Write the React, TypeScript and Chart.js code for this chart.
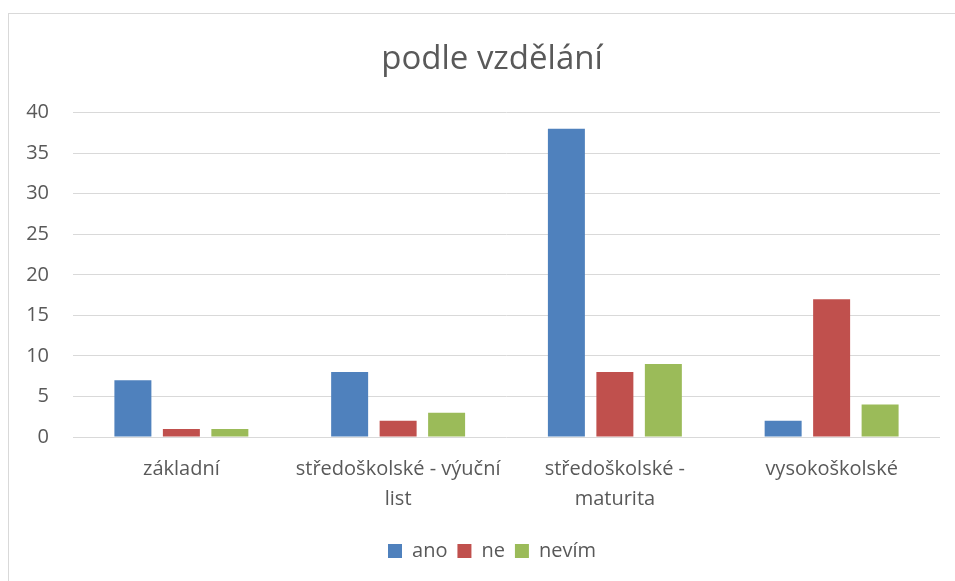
import React, { useEffect, useRef } from "react";
import { Chart, registerables } from "chart.js";

Chart.register(...registerables);

const categories: (string | string[])[] = [
  "základní",
  ["středoškolské - výuční", "list"],
  ["středoškolské -", "maturita"],
  "vysokoškolské",
];
const ano = [7, 8, 38, 2];
const ne = [1, 2, 8, 17];
const nevim = [1, 3, 9, 4];
const yTicks = [0, 5, 10, 15, 20, 25, 30, 35, 40];

const FONT = "'Open Sans', sans-serif";
const TEXT = "#595959";

const centerShift = {
  id: "centerShift",
  afterLayout(chart: any) {
    if (chart.titleBlock) chart.titleBlock.left += 44;
    if (chart.legend) chart.legend.left += 44;
  },
};

export default function App() {
  const ref = useRef<HTMLCanvasElement | null>(null);
  useEffect(() => {
    document.body.style.margin = "0";
    const ctx = ref.current!;
    const chart = new Chart(ctx, {
      type: "bar",
      data: {
        labels: categories as any,
        datasets: [
          { label: "ano", data: ano, backgroundColor: "#4F81BD" },
          { label: "ne", data: ne, backgroundColor: "#C0504D" },
          { label: "nevím", data: nevim, backgroundColor: "#9BBB59" },
        ],
      },
      plugins: [centerShift],
      options: {
        animation: false,
        responsive: false,
        maintainAspectRatio: false,
        layout: { padding: { left: 0, right: 15, top: 0, bottom: 10 } },
        datasets: {
          bar: { categoryPercentage: 0.671, barPercentage: 0.763 },
        },
        plugins: {
          title: {
            display: true,
            text: "podle vzdělání",
            color: TEXT,
            font: { family: FONT, size: 33, weight: "normal", lineHeight: 1.2 },
            padding: { top: 40, bottom: 33 },
          },
          legend: {
            position: "bottom",
            labels: {
              color: TEXT,
              font: { family: FONT, size: 20 },
              boxWidth: 14,
              boxHeight: 14,
              padding: 10,
            },
          },
          tooltip: { enabled: false },
        },
        scales: {
          x: {
            grid: { display: false, drawTicks: false },
            border: { display: false },
            ticks: {
              color: TEXT,
              font: { family: FONT, size: 20, lineHeight: 1.5 },
              padding: 17,
              maxRotation: 0,
              autoSkip: false,
            },
            afterFit: (s: any) => {
              s.height = 94;
            },
          },
          y: {
            min: 0,
            max: 40,
            afterBuildTicks: (s: any) => {
              s.ticks = yTicks.map((v) => ({ value: v }));
            },
            grid: { color: "#d9d9d9", lineWidth: 1, drawTicks: false },
            border: { display: false },
            ticks: {
              color: TEXT,
              font: { family: FONT, size: 20 },
              padding: 24,
            },
            afterFit: (s: any) => {
              s.width = 73;
            },
          },
        },
      },
    });
    return () => chart.destroy();
  }, []);
  return (
    <div style={{ position: "relative", width: 955, height: 581, background: "#fff" }}>
      <canvas ref={ref} width={955} height={581} style={{ position: "absolute", left: 0, top: 0 }} />
      <div
        style={{
          position: "absolute",
          left: 8,
          top: 13,
          width: 947,
          height: 568,
          borderLeft: "1px solid #d9d9d9",
          borderTop: "1px solid #d9d9d9",
          boxSizing: "border-box",
          pointerEvents: "none",
        }}
      />
    </div>
  );
}
